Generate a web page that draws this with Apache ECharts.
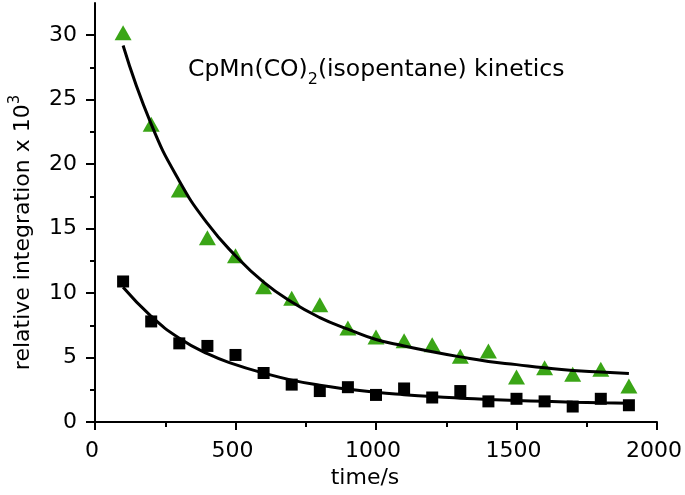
<!DOCTYPE html>
<html>
<head>
<meta charset="utf-8">
<script src="https://cdn.jsdelivr.net/npm/echarts@6/dist/echarts.min.js"></script>
<style>
html,body{margin:0;padding:0;background:#fff;}
#chart{width:685px;height:495px;}
</style>
</head>
<body>
<div id="chart"></div>
<script>
// ---- data ----
const timeS = [100, 200, 300, 400, 500, 600, 700, 800, 900, 1000, 1100, 1200, 1300, 1400, 1500, 1600, 1700, 1800, 1900];
const greenPoints = [30.2, 23.1, 18.0, 14.3, 12.9, 10.5, 9.6, 9.1, 7.3, 6.6, 6.3, 6.0, 5.1, 5.5, 3.5, 4.2, 3.7, 4.1, 2.8];
const blackPoints = [10.9, 7.8, 6.1, 5.9, 5.2, 3.8, 2.9, 2.4, 2.7, 2.1, 2.6, 1.9, 2.4, 1.6, 1.8, 1.6, 1.2, 1.8, 1.3];
const greenFit = [29.2, 23.1, 18.7, 15.4, 12.9, 10.85, 9.3, 8.1, 7.2, 6.4, 5.9, 5.45, 5.05, 4.7, 4.45, 4.2, 4.0, 3.88, 3.76];
const blackFit = [10.45, 8.2, 6.5, 5.3, 4.45, 3.8, 3.25, 2.85, 2.55, 2.3, 2.12, 1.97, 1.85, 1.75, 1.67, 1.6, 1.54, 1.49, 1.45];
const yMajorTicks = [0, 5, 10, 15, 20, 25, 30];
const yMinorTicks = [2.5, 7.5, 12.5, 17.5, 22.5, 27.5];
const xName = 'time/s';
const yName = 'relative integration x 10';

const pairs = (xs, ys) => xs.map((x, i) => [x, ys[i]]);
const FONT = '"DejaVu Sans", "Liberation Sans", Arial, sans-serif';
const GREEN = '#3aa516';

const chart = echarts.init(document.getElementById('chart'), null, {renderer: 'canvas'});
chart.setOption({
  backgroundColor: '#ffffff',
  animation: false,
  title: {
    text: '{a|CpMn(CO)}{s|2}{a|(isopentane) kinetics}',
    left: 188, top: 52, padding: 0,
    textStyle: {
      fontWeight: 'normal',
      rich: {
        a: {fontFamily: FONT, fontSize: 23.5, fontWeight: 'normal', color: '#000', lineHeight: 36},
        s: {fontFamily: FONT, fontSize: 16, fontWeight: 'normal', color: '#000', lineHeight: 16, verticalAlign: 'bottom'}
      }
    }
  },
  grid: {left: 89, right: 27, top: 3, bottom: 73, containLabel: false},
  xAxis: {
    type: 'value', min: 0, max: 2000, interval: 500,
    name: xName, nameLocation: 'middle', nameGap: 44,
    nameTextStyle: {fontFamily: FONT, fontSize: 22, color: '#000', padding: [0, 22, 0, 0]},
    axisLine: {show: true, onZero: false, lineStyle: {color: '#000', width: 2}},
    axisTick: {show: true, inside: false, length: 8, lineStyle: {color: '#000', width: 2}},
    minorTick: {show: true, splitNumber: 2, length: 5, lineStyle: {color: '#000', width: 2}},
    axisLabel: {fontFamily: FONT, fontSize: 22, color: '#000', margin: 18, padding: [0, 6, 0, 0], formatter: v => String(v)},
    splitLine: {show: false}, minorSplitLine: {show: false}
  },
  yAxis: [{
    type: 'value', min: 0, max: 32.5, interval: 5,
    name: '{a|' + yName + '}{p|3}', nameLocation: 'middle', nameGap: 57, nameRotate: 90,
    nameTextStyle: {
      padding: [0, 40, 0, 0],
      rich: {
        a: {fontFamily: FONT, fontSize: 22, color: '#000', lineHeight: 30},
        p: {fontFamily: FONT, fontSize: 15, color: '#000', lineHeight: 15, verticalAlign: 'top'}
      }
    },
    axisLine: {show: true, onZero: false, lineStyle: {color: '#000', width: 2}},
    axisTick: {show: true, inside: false, length: 9, customValues: yMajorTicks, lineStyle: {color: '#000', width: 2}},
    axisLabel: {fontFamily: FONT, fontSize: 22, color: '#000', margin: 18, customValues: yMajorTicks, formatter: v => String(v)},
    splitLine: {show: false}
  }, {
    type: 'value', min: 0, max: 32.5, interval: 2.5, position: 'left',
    axisLine: {show: false},
    axisTick: {show: true, inside: false, length: 5, customValues: yMinorTicks, lineStyle: {color: '#000', width: 2}},
    axisLabel: {show: false},
    splitLine: {show: false}
  }],
  series: [
    {type: 'scatter', name: 'green', data: pairs(timeS, greenPoints), symbol: 'triangle', symbolSize: [17, 15],
      itemStyle: {color: GREEN, opacity: 1}, z: 2},
    {type: 'scatter', name: 'black', data: pairs(timeS, blackPoints), symbol: 'rect', symbolSize: 12,
      itemStyle: {color: '#000', opacity: 1}, z: 2},
    {type: 'line', name: 'greenFit', data: pairs(timeS, greenFit), smooth: true, symbol: 'none',
      lineStyle: {color: '#000', width: 3}, z: 3},
    {type: 'line', name: 'blackFit', data: pairs(timeS, blackFit), smooth: true, symbol: 'none',
      lineStyle: {color: '#000', width: 3}, z: 3}
  ]
});
</script>
</body>
</html>
